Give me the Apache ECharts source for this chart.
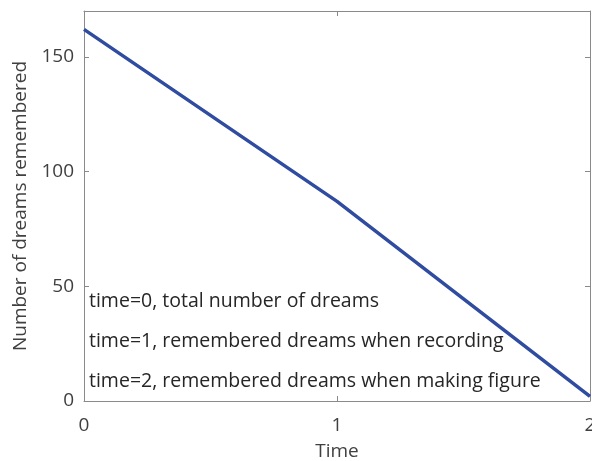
<!DOCTYPE html>
<html>
<head>
<meta charset="utf-8">
<script src="https://cdn.jsdelivr.net/npm/echarts@6/dist/echarts.min.js"></script>
<style>html,body{margin:0;padding:0;background:#fff;}#c{width:592px;height:461px;}</style>
</head>
<body>
<div id="c"></div>
<script>
const times = [0, 1, 2];
const dreams = [162, 87, 2];
const xTicks = [0, 1, 2];
const yTicks = [0, 50, 100, 150];
const notes = [
  'time=0, total number of dreams',
  'time=1, remembered dreams when recording',
  'time=2, remembered dreams when making figure'
];

const FONT = '"Open Sans", "Noto Sans", sans-serif';
const axisCol = '#8a8a8a';
const textCol = '#404040';
const chart = echarts.init(document.getElementById('c'));

const data = times.map((t, i) => [t, dreams[i]]);

chart.setOption({
  animation: false,
  backgroundColor: '#fff',
  grid: { left: 84, right: 2, top: 11, bottom: 60, containLabel: false, outerBoundsMode: 'none' },
  xAxis: [{
    type: 'value', min: 0, max: 2, interval: 1,
    name: 'Time', nameLocation: 'middle', nameGap: 41,
    nameTextStyle: { fontFamily: FONT, fontSize: 19, color: textCol },
    axisLine: { show: true, onZero: false, lineStyle: { color: axisCol, width: 1 } },
    axisTick: { show: true, inside: true, length: 5, lineStyle: { color: axisCol } },
    axisLabel: { fontFamily: FONT, fontSize: 19, color: textCol, margin: 15,
      formatter: v => xTicks.includes(v) ? String(v) : '' },
    splitLine: { show: false }
  }, {
    type: 'value', min: 0, max: 2, interval: 1, position: 'top',
    axisLine: { show: true, onZero: false, lineStyle: { color: axisCol, width: 1 } },
    axisTick: { show: true, inside: true, length: 5, lineStyle: { color: axisCol } },
    axisLabel: { show: false }, splitLine: { show: false }
  }],
  yAxis: [{
    type: 'value', min: 0, max: 170, interval: 50,
    name: 'Number of dreams remembered', nameLocation: 'middle', nameGap: 47,
    nameTextStyle: { fontFamily: FONT, fontSize: 19, color: textCol },
    axisLine: { show: true, onZero: false, lineStyle: { color: axisCol, width: 1 } },
    axisTick: { show: true, inside: true, length: 5, lineStyle: { color: axisCol } },
    axisLabel: { fontFamily: FONT, fontSize: 19, color: textCol, margin: 10,
      formatter: v => yTicks.includes(v) ? String(v) : '' },
    splitLine: { show: false }
  }, {
    type: 'value', min: 0, max: 170, interval: 50, position: 'right',
    axisLine: { show: true, onZero: false, lineStyle: { color: axisCol, width: 1 } },
    axisTick: { show: true, inside: true, length: 5, lineStyle: { color: axisCol } },
    axisLabel: { show: false }, splitLine: { show: false }
  }],
  series: [{
    type: 'line', data: data, xAxisIndex: 0, yAxisIndex: 0,
    symbol: 'none', smooth: false,
    lineStyle: { color: '#2f4ca0', width: 3.5 }
  }],
  graphic: notes.map((t, i) => ({
    type: 'text', left: 89, top: 291 + i * 40,
    style: { text: t, fontFamily: FONT, fontSize: 19.5, fill: '#262626' }
  }))
});
</script>
</body>
</html>
